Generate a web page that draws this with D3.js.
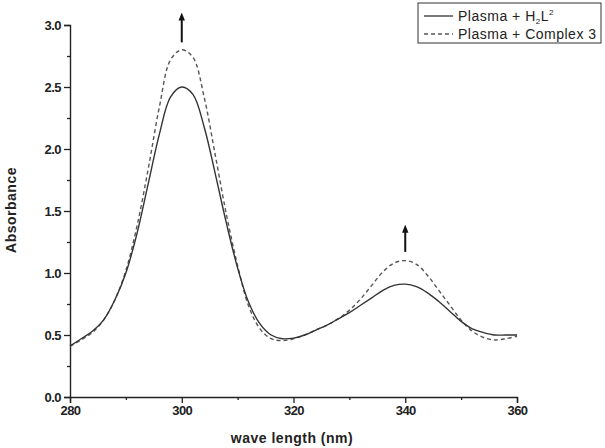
<!DOCTYPE html>
<html><head><meta charset="utf-8">
<script src="https://cdn.jsdelivr.net/npm/d3@7"></script>
<style>body{margin:0;background:#fff}svg{display:block}text{font-family:"Liberation Sans",Arial,sans-serif}</style>
</head><body>
<svg id="c" width="605" height="448"></svg>
<script>
const wavelengths = [280,282,284,286,288,290,292,294,296,298,300,302,304,306,308,310,312,314,316,318,320,322,324,326,328,330,332,334,336,338,340,342,344,346,348,350,352,354,356,358,360];
const plasmaH2L2 = [0.41,0.47,0.53,0.62,0.78,1.00,1.32,1.72,2.12,2.42,2.50,2.44,2.18,1.80,1.40,1.04,0.76,0.59,0.50,0.47,0.475,0.50,0.54,0.58,0.63,0.68,0.74,0.80,0.86,0.90,0.91,0.89,0.84,0.77,0.69,0.61,0.55,0.52,0.50,0.50,0.50];
const plasmaComplex3 = [0.41,0.46,0.52,0.62,0.78,1.02,1.38,1.84,2.34,2.72,2.80,2.74,2.42,1.95,1.47,1.06,0.73,0.55,0.47,0.455,0.47,0.50,0.54,0.58,0.63,0.70,0.79,0.90,1.01,1.08,1.10,1.07,0.98,0.86,0.74,0.62,0.53,0.48,0.46,0.47,0.49];
const xTicks = [280,300,320,340,360];
const yTicks = [0.0,0.5,1.0,1.5,2.0,2.5,3.0];
const arrows = [{x:300, from:2.86, to:3.10},{x:340, from:1.17, to:1.39}];

const svg = d3.select("#c");
const x = d3.scaleLinear().domain([280,360]).range([70,517]);
const y = d3.scaleLinear().domain([0,3]).range([397,25]);

// axes
svg.append("g").attr("transform","translate(0,397)")
  .call(d3.axisBottom(x).tickValues(xTicks).tickFormat(d3.format("d")).tickSize(6).tickPadding(3));
svg.append("g").attr("transform","translate(0,397)")
  .call(d3.axisBottom(x).tickValues([290,310,330,350]).tickFormat("").tickSize(3))
  .select(".domain").remove();
svg.append("g").attr("transform","translate(70,0)")
  .call(d3.axisLeft(y).tickValues(yTicks).tickFormat(d3.format(".1f")).tickSize(6).tickPadding(3));
svg.append("g").attr("transform","translate(70,0)")
  .call(d3.axisLeft(y).tickValues([0.25,0.75,1.25,1.75,2.25,2.75]).tickFormat("").tickSize(3))
  .select(".domain").remove();
svg.selectAll(".domain").attr("stroke","#222").attr("stroke-width",1.4);
svg.selectAll(".tick line").attr("stroke","#222").attr("stroke-width",1.3);
svg.selectAll(".tick text").attr("font-size",13).attr("font-weight","bold").attr("fill","#222")
  .attr("font-family","'Liberation Sans',Arial,sans-serif").attr("letter-spacing","-0.5");

// lines
const line = (vals) => d3.line().x((d,i)=>x(wavelengths[i])).y(d=>y(d)).curve(d3.curveCatmullRom)(vals);
svg.append("path").attr("d",line(plasmaComplex3)).attr("fill","none").attr("stroke","#555").attr("stroke-width",1.4).attr("stroke-dasharray","4,3");
svg.append("path").attr("d",line(plasmaH2L2)).attr("fill","none").attr("stroke","#333").attr("stroke-width",1.4);

// arrows
svg.append("defs").append("marker").attr("id","ah").attr("viewBox","0 0 10 10").attr("refX",5).attr("refY",5)
  .attr("markerWidth",4).attr("markerHeight",4.5).attr("orient","auto")
  .append("path").attr("d","M0,1 L10,5 L0,9 z").attr("fill","#111");
arrows.forEach(a=>{
  svg.append("line").attr("x1",x(a.x)).attr("x2",x(a.x)).attr("y1",y(a.from)).attr("y2",y(a.to)+4)
    .attr("stroke","#111").attr("stroke-width",2).attr("marker-end","url(#ah)");
});

// axis titles
svg.append("text").attr("x",292).attr("y",443).attr("text-anchor","middle").attr("font-size",14).attr("font-weight","bold").attr("letter-spacing","0.5").attr("fill","#222").text("wave length (nm)");
svg.append("text").attr("transform","translate(16,210) rotate(-90)").attr("text-anchor","middle").attr("font-size",14).attr("font-weight","bold").attr("letter-spacing","0.5").attr("fill","#222").text("Absorbance");

// legend
const lg = svg.append("g");
lg.append("rect").attr("x",418).attr("y",3).attr("width",183).attr("height",40).attr("fill","#fff").attr("stroke","#333").attr("stroke-width",1);
lg.append("line").attr("x1",424).attr("x2",453).attr("y1",16).attr("y2",16).attr("stroke","#333").attr("stroke-width",1.3);
lg.append("line").attr("x1",424).attr("x2",453).attr("y1",34).attr("y2",34).attr("stroke","#555").attr("stroke-width",1.3).attr("stroke-dasharray","4,3");
const t1 = lg.append("text").attr("x",458).attr("y",21).attr("font-size",14).attr("letter-spacing","0.5").attr("fill","#222");
t1.append("tspan").text("Plasma + H");
t1.append("tspan").attr("font-size",8).attr("dy",3).text("2");
t1.append("tspan").attr("dy",-3).text("L");
t1.append("tspan").attr("font-size",8).attr("dy",-6).text("2");
lg.append("text").attr("x",458).attr("y",39).attr("font-size",14).attr("letter-spacing","0.5").attr("fill","#222").text("Plasma + Complex 3");
</script>
</body></html>
